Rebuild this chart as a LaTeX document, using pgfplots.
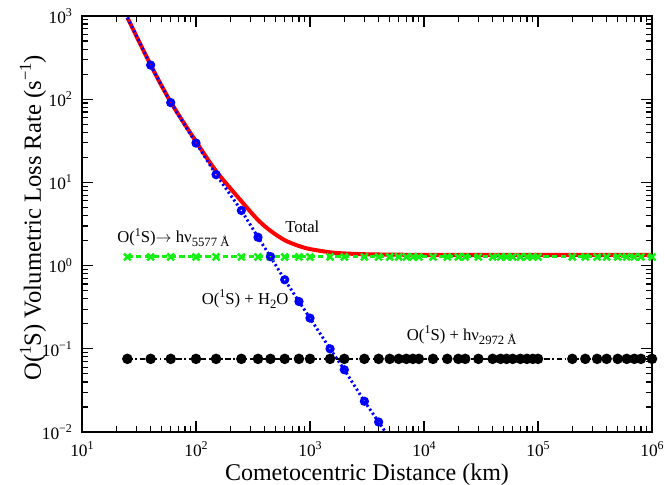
\documentclass[border=0pt]{standalone}
\usepackage{pgfplots}
\pgfplotsset{compat=1.18}
\usepackage{fontspec}
\setmainfont{Liberation Serif}

\definecolor{cred}{RGB}{255,0,0}
\definecolor{cblue}{RGB}{0,0,255}
\definecolor{cgreen}{RGB}{20,240,20}

% raised / lowered small text
\newcommand{\supt}[1]{\raisebox{5pt}{\fontsize{9}{9}\selectfont #1}}
\newcommand{\supa}[1]{\raisebox{5pt}{\fontsize{9}{9}\selectfont #1}}
\newcommand{\suba}[1]{\raisebox{-3pt}{\fontsize{9.5}{9.5}\selectfont #1}}
\newcommand{\supl}[1]{\raisebox{7.5pt}{\fontsize{12.5}{12.5}\selectfont #1}}

\begin{document}
\begin{tikzpicture}
\begin{axis}[
  scale only axis,
  width=427.5pt, height=312pt,
  xmode=log, ymode=log,
  xmin=10, xmax=1e6,
  ymin=1e-2, ymax=1e3,
  axis line style={line width=1.1pt},
  every tick/.style={black, line width=0.9pt},
  major tick length=8pt,
  minor tick length=4.5pt,
  xtick={10,100,1000,1e4,1e5,1e6},
  xticklabels={10\supt{1},10\supt{2},10\supt{3},10\supt{4},10\supt{5},10\supt{6}},
  minor xtick={20,30,40,50,60,70,80,90,200,300,400,500,600,700,800,900,
    2000,3000,4000,5000,6000,7000,8000,9000,2e4,3e4,4e4,5e4,6e4,7e4,8e4,9e4,
    2e5,3e5,4e5,5e5,6e5,7e5,8e5,9e5},
  ytick={1e-2,1e-1,1,10,100,1000},
  yticklabels={10\supt{−2},10\supt{−1},10\supt{0},10\supt{1},10\supt{2},10\supt{3}},
  minor ytick={0.02,0.03,0.04,0.05,0.06,0.07,0.08,0.09,0.2,0.3,0.4,0.5,0.6,0.7,0.8,0.9,
    2,3,4,5,6,7,8,9,20,30,40,50,60,70,80,90,200,300,400,500,600,700,800,900},
  ticklabel style={font=\fontsize{13}{15}\selectfont},
  xticklabel style={yshift=-4pt},
  yticklabel style={xshift=-4pt},
  xlabel={Cometocentric Distance (km)},
  ylabel={O(\supl{1}S) Volumetric Loss Rate (s\supl{−1})},
  xlabel style={font=\fontsize{18}{20}\selectfont,
    at={(axis description cs:0.5,0)}, anchor=base, yshift=-36.5pt},
  ylabel style={font=\fontsize{18.5}{20}\selectfont,
    at={(axis description cs:-0.072,0.515)}, anchor=base, rotate=0},
  clip=true,
]

% total
\addplot[cred, line width=3pt, smooth] coordinates {
  (25,960) (40,258.4) (60,92.4) (100,31.0) (150,13.7) (250,5.95) (350,3.53)
  (450,2.62) (600,2.02) (800,1.72) (1000,1.58) (1500,1.445) (2000,1.40)
  (3000,1.37) (4000,1.36) (10000,1.346) (100000,1.345) (1000000,1.345)
};

% O(1S) -> hv 5577
\addplot[cgreen, line width=2.2pt, dash pattern=on 4pt off 2.5pt,
  mark=x, mark size=3.6pt, mark options={solid, line width=1.9pt}] coordinates {
  (25,1.27) (40,1.27) (60,1.27) (100,1.27) (150,1.27) (250,1.27) (350,1.27)
  (450,1.27) (600,1.27) (800,1.27) (1000,1.27) (1500,1.27) (2000,1.27)
  (3000,1.27) (4000,1.27) (5000,1.27) (6000,1.27) (7000,1.27) (8000,1.27)
  (9000,1.27) (12000,1.27) (16000,1.27) (20000,1.27) (23000,1.27) (30000,1.27)
  (40000,1.27) (47000,1.27) (53000,1.27) (60000,1.27) (70000,1.27) (80000,1.27)
  (90000,1.27) (100000,1.27) (200000,1.27) (260000,1.27) (330000,1.27)
  (400000,1.27) (500000,1.27) (600000,1.27) (700000,1.27) (800000,1.27)
  (1000000,1.27)
};

% O(1S) + hv 2972
\addplot[black, line width=1.8pt, dash pattern=on 4pt off 2pt on 1.2pt off 2pt,
  mark=*, mark size=3pt, mark options={solid}] coordinates {
  (25,0.0757) (40,0.0757) (60,0.0757) (100,0.0757) (150,0.0757) (250,0.0757)
  (350,0.0757) (450,0.0757) (600,0.0757) (800,0.0757) (1000,0.0757)
  (1500,0.0757) (2000,0.0757) (3000,0.0757) (4000,0.0757) (5000,0.0757)
  (6000,0.0757) (7000,0.0757) (8000,0.0757) (9000,0.0757) (12000,0.0757)
  (16000,0.0757) (20000,0.0757) (23000,0.0757) (30000,0.0757) (40000,0.0757)
  (47000,0.0757) (53000,0.0757) (60000,0.0757) (70000,0.0757) (80000,0.0757)
  (90000,0.0757) (100000,0.0757) (200000,0.0757) (260000,0.0757)
  (330000,0.0757) (400000,0.0757) (500000,0.0757) (600000,0.0757)
  (700000,0.0757) (800000,0.0757) (1000000,0.0757)
};

% O(1S) + H2O
\addplot[cblue, line width=2.2pt, dash pattern=on 1.6pt off 2pt] coordinates {
  (25,958) (40,257) (60,91) (100,29.7) (150,12.4) (250,4.6) (350,2.19)
  (450,1.28) (600,0.676) (800,0.37) (1000,0.234) (1500,0.1) (2000,0.056)
  (3000,0.0234) (4000,0.0132) (4700,0.0095)
};
\addplot[only marks, cblue, mark=o, mark size=2.1pt,
  mark options={line width=2.6pt}] coordinates {
  (40,257) (60,91) (100,29.7) (150,12.4) (250,4.6) (350,2.19)
  (450,1.28) (600,0.676) (800,0.37) (1000,0.234) (1500,0.1) (2000,0.056)
  (3000,0.0234) (4000,0.0132)
};

\node[font=\fontsize{12.5}{14}\selectfont, anchor=base west, inner sep=0pt]
  at (axis cs:20.3,1.88) {O(\supa{1}S)$\rightarrow$ hν\suba{5577 Å}};
\node[font=\fontsize{12.5}{14}\selectfont, anchor=base west, inner sep=0pt]
  at (axis cs:604,2.48) {Total};
\node[font=\fontsize{12.5}{14}\selectfont, anchor=base west, inner sep=0pt]
  at (axis cs:112,0.34) {O(\supa{1}S) + H\suba{2}O};
\node[font=\fontsize{12.5}{14}\selectfont, anchor=base west, inner sep=0pt]
  at (axis cs:7050,0.1265) {O(\supa{1}S) + hν\suba{2972 Å}};
\end{axis}
\pgfresetboundingbox
\path (-61.5pt,-39.75pt) rectangle (437.25pt,324pt);
\end{tikzpicture}
\end{document}
